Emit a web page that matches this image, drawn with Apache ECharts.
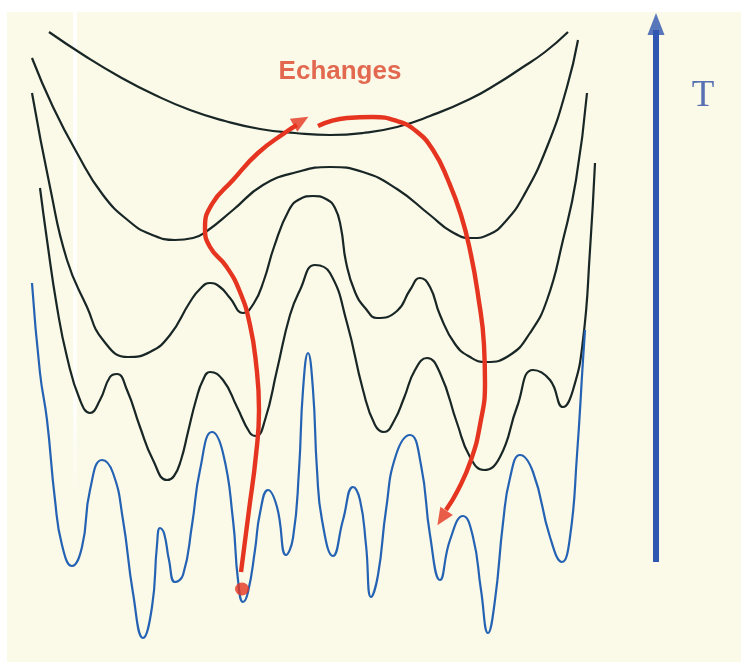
<!DOCTYPE html>
<html>
<head>
<meta charset="utf-8">
<script src="https://cdn.jsdelivr.net/npm/echarts@6/dist/echarts.min.js"></script>
<style>
html,body{margin:0;padding:0;background:#ffffff;}
#chart{width:741px;height:663px;}
</style>
</head>
<body>
<div id="chart"></div>
<script>
// Energy landscapes (pixel-space coordinates), highest T first
const landscapeT1 = [[49,32],[85,56],[120,77],[155,95],[190,110],[225,121],[260,129],[295,133],[330,135],[363,133],[397,127],[430,116],[470,99],[500,82],[520,69],[545,52],[568,32]];
const landscapeT2 = [[32,58],[53,107],[77,153],[103,195],[130,222],[150,234],[175,240],[193,238],[207,231],[233,210],[263,185],[297,172],[330,167],[363,172],[397,189],[430,215],[452,232],[472,238],[490,234],[505,222],[523,197],[547,147],[567,87],[578,40]];
const landscapeT3 = [[32,93],[50,187],[67,260],[87,307],[103,340],[128,357],[150,352],[170,335],[190,302],[200,289],[210,283],[220,287],[230,298],[243,313],[254,303],[264,280],[274,247],[289,210],[300,199],[313,196],[326,199],[335,208],[341,228],[346,262],[355,292],[366,309],[377,318],[397,311],[410,290],[420,278],[430,287],[440,315],[455,344],[470,357],[486,362],[510,355],[530,333],[547,300],[563,240],[576,180],[587,93]];
const landscapeT4 = [[40,188],[47,240],[57,307],[67,357],[80,400],[90,413],[100,400],[110,377],[117,374],[127,390],[140,427],[153,460],[167,480],[174,476],[181,460],[188,432],[196,400],[203,380],[210,372],[223,380],[237,407],[250,433],[256,436],[265,420],[277,370],[290,315],[300,290],[315,265],[330,273],[347,323],[363,390],[375,425],[384,432],[394,421],[404,398],[415,370],[427,358],[440,373],[457,423],[470,457],[484,470],[500,457],[517,407],[533,370],[550,380],[563,407],[573,390],[583,340],[590,250],[595,163]];
const landscapeLow = [[32,283],[40,373],[47,420],[55,500],[62,545],[72,566],[82,547],[90,490],[102,460],[113,473],[123,520],[133,593],[143,638],[152,607],[157,545],[160,528],[164,533],[169,560],[175,582],[183,575],[192,525],[200,470],[212,432],[223,453],[233,520],[238,580],[243,602],[248,592],[255,550],[260,513],[268,490],[277,507],[286,555],[293,538],[299,470],[303,390],[308,353],[313,390],[317,470],[322,520],[333,556],[343,520],[353,487],[360,500],[366,545],[371,597],[378,575],[386,510],[396,455],[410,435],[421,465],[430,535],[440,580],[450,540],[463,516],[473,537],[481,590],[488,633],[495,600],[503,523],[510,478],[520,455],[533,472],[550,537],[562,562],[570,537],[577,455],[583,360],[585,330]];

// Exchange paths (red arrows)
const exchangeUp = [[241,572],[249,510],[256,455],[259,410],[256,363],[250,325],[240,292],[226,266],[210,247],[205,228],[212,204],[233,180],[258,153],[286,132],[297,125]];
const exchangeDown = [[318,126],[347,118],[373,117],[397,121],[416,131],[433,150],[448,180],[461,215],[471,255],[478,295],[484,345],[485,383],[480,425],[471,460],[458,490],[446,510]];
const arrowHeads = [[301,121,-60],[442,518,147]];
const startState = [[242,589]];

// Temperature axis arrow and labels
const tempArrow = [[656,562],[656,30]];
const tempHead = [[656,24]];
const labels = ['Echanges', 'T'];
const labelPos = [[340,72],[703,96]];

const chart = echarts.init(document.getElementById('chart'), null, {renderer:'canvas'});
const black = '#182626';
const red = '#e5341f';
function lineSeries(data, color, width, z){
  return {type:'line', data:data, smooth:0.5, symbol:'none', silent:true, z:z||2,
    lineStyle:{color:color, width:width}, itemStyle:{color:color}};
}
const option = {
  animation:false,
  backgroundColor:'#ffffff',
  grid:{left:0,right:0,top:0,bottom:0},
  xAxis:{type:'value', min:0, max:741, show:false},
  yAxis:{type:'value', min:0, max:663, inverse:true, show:false},
  graphic:[
    {type:'rect', z:-10, shape:{x:7,y:12,width:734,height:650}, style:{fill:'#fbf9e7'}},
    {type:'rect', z:-9, shape:{x:73,y:12,width:4,height:495},
      style:{fill:new echarts.graphic.LinearGradient(0,0,0,1,[{offset:0,color:'rgba(255,255,255,0.95)'},{offset:0.8,color:'rgba(255,255,255,0.8)'},{offset:1,color:'rgba(255,255,255,0)'}])}}
  ],
  series:[
    lineSeries(landscapeT1, black, 2.2),
    lineSeries(landscapeT2, black, 2.2),
    lineSeries(landscapeT3, black, 2.2),
    lineSeries(landscapeT4, black, 2.2),
    lineSeries(landscapeLow, '#2462b4', 2.2),
    lineSeries(exchangeUp, red, 4.4, 5),
    lineSeries(exchangeDown, red, 4.4, 5),
    {type:'scatter', data:arrowHeads.map(p=>({value:[p[0],p[1]], symbolRotate:p[2]})), symbol:'triangle', symbolSize:[15,17], silent:true, z:6, itemStyle:{color:red}},
    {type:'scatter', data:startState, symbol:'circle', symbolSize:[14,13], silent:true, z:6, itemStyle:{color:red}},
    {type:'line', data:tempArrow, symbol:'none', silent:true, z:4, lineStyle:{color:'#2f56b0', width:6, cap:'butt'}},
    {type:'scatter', data:tempHead, symbol:'triangle', symbolSize:[17,22], silent:true, z:4, itemStyle:{color:'#2f56b0'}},
    {type:'scatter', symbolSize:0, silent:true, z:7, itemStyle:{color:'transparent'},
      label:{show:true, position:'inside', formatter:p=>p.name},
      data:[
        {value:labelPos[0], name:labels[0], label:{fontFamily:'Liberation Sans', fontWeight:'bold', fontSize:26, color:'#dc4529'}},
        {value:labelPos[1], name:labels[1], label:{fontFamily:'Liberation Serif', fontWeight:'normal', fontSize:37, color:'#2e4fa6'}}
      ]}
  ]
};
chart.setOption(option);
</script>
</body>
</html>
